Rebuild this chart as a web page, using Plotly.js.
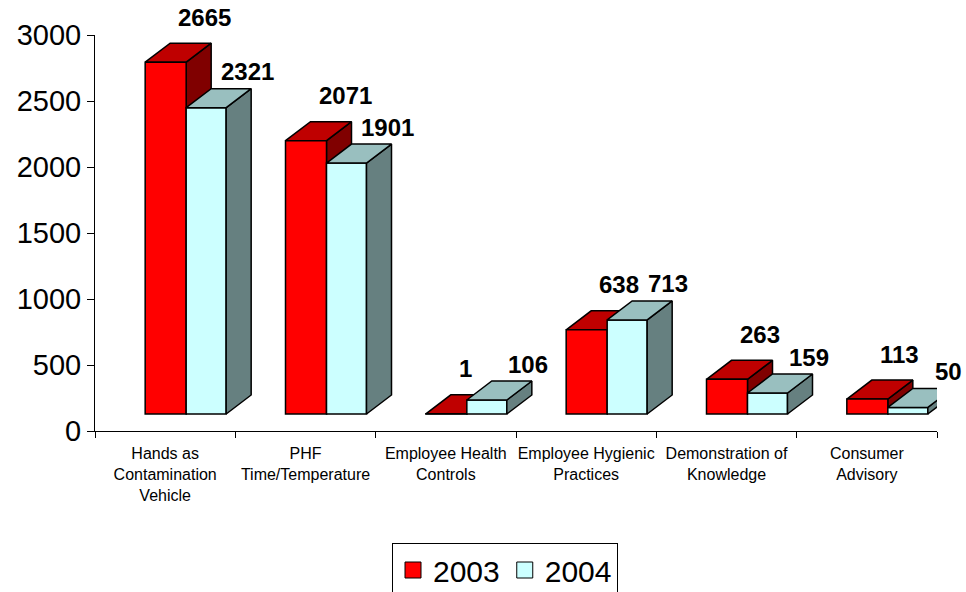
<!DOCTYPE html>
<html><head><meta charset="utf-8">
<script src="https://cdn.plot.ly/plotly-3.0.1.min.js"></script>
<style>html,body{margin:0;padding:0;background:#fff}</style>
</head><body><div id="chart" style="width:966px;height:592px"></div>
<script>
const categories = ["Hands as<br>Contamination<br>Vehicle", "PHF<br>Time/Temperature", "Employee Health<br>Controls", "Employee Hygienic<br>Practices", "Demonstration of<br>Knowledge", "Consumer<br>Advisory"];
const years = ["2003", "2004"];
const values2003 = [2665, 2071, 1, 638, 263, 113];
const values2004 = [2321, 1901, 106, 713, 159, 50];
const yTicks = [0, 500, 1000, 1500, 2000, 2500, 3000];

const W = 966, H = 592, M = {l: 95, r: 29, t: 35, b: 161};
const XR = [-0.5, categories.length - 0.5], YR = [0, 3000];
const pxX = (W - M.l - M.r) / (XR[1] - XR[0]);
const pxY = (H - M.t - M.b) / (YR[1] - YR[0]);
const ux = p => p / pxX, uy = p => p / pxY;
const BASE = uy(17), DX = ux(25), DY = uy(19);
const idx = categories.map((_, i) => i);

const series = [
  {name: years[0], vals: values2003, off: ux(-20), w: ux(41), front: '#FF0000', top: '#BF0000', side: '#800000'},
  {name: years[1], vals: values2004, off: ux(21), w: ux(40), front: '#CCFFFF', top: '#99BFBF', side: '#668080'}
];

function poly(s, kind) {
  const xs = [], ys = [];
  s.vals.forEach((v, i) => {
    const xl = i + s.off, xr = xl + s.w, top = BASE + v;
    if (kind === 'top') {
      xs.push(xl, xr, xr + DX, xl + DX, xl, null);
      ys.push(top, top, top + DY, top + DY, top, null);
    } else {
      xs.push(xr, xr, xr + DX, xr + DX, xr, null);
      ys.push(BASE, top, top + DY, BASE + DY, BASE, null);
    }
  });
  return {xs, ys};
}

const traces = [];
const line = {color: '#000', width: 1.5};
series.forEach((s, k) => {
  const ax = k === 0 ? {xaxis: 'x', yaxis: 'y'} : {xaxis: 'x2', yaxis: 'y2'};
  ['side', 'top'].forEach(kind => {
    const p = poly(s, kind);
    traces.push(Object.assign({type: 'scatter', mode: 'lines', x: p.xs, y: p.ys, fill: 'toself',
      fillcolor: s[kind], line: line, showlegend: false, hoverinfo: 'skip'}, ax));
  });
});
series.forEach(s => {
  traces.push({type: 'bar', x: idx, y: s.vals, base: BASE, offset: s.off, width: s.w,
    marker: {color: s.front, line: line}, xaxis: 'x2', yaxis: 'y2', showlegend: false, hoverinfo: 'skip'});
});
// legend entries
series.forEach(s => {
  traces.push({type: 'scatter', mode: 'markers', x: [null], y: [null], name: s.name,
    marker: {symbol: 'square', size: 16, color: s.front, line: {color: '#000', width: 1}},
    xaxis: 'x2', yaxis: 'y2', showlegend: true, hoverinfo: 'skip'});
});

// value labels, anchored at the back edge of each bar's top face
const annotations = [];
series.forEach((s, k) => {
  s.vals.forEach((v, i) => {
    const backLeft = i + s.off + DX;
    annotations.push({
      xref: 'x', yref: 'y', x: k === 0 ? backLeft : backLeft + s.w / 2, y: BASE + v + DY,
      xanchor: k === 0 ? 'left' : 'center', yanchor: 'middle',
      xshift: k === 0 ? 6 : 16, yshift: k === 0 ? 26 : 17,
      text: String(v), showarrow: false,
      font: {family: 'Liberation Sans, Arial, sans-serif', size: 24, color: '#000', weight: 'bold'}
    });
  });
});

const font = {family: 'Liberation Sans, Arial, sans-serif', color: '#000'};
const layout = {
  width: W, height: H, margin: M, paper_bgcolor: '#fff', plot_bgcolor: '#fff',
  barmode: 'overlay', font: font, annotations: annotations,
  xaxis: {type: 'linear', range: XR, autorange: false, tickmode: 'array', tickvals: idx, ticktext: categories,
    ticks: '', showgrid: false, zeroline: false, showline: true, linecolor: '#000', linewidth: 1,
    ticklabelstandoff: 8,
    tickfont: {family: font.family, size: 16, color: '#000'},
    minor: {tickmode: 'array', tickvals: idx.concat([categories.length]).map(i => i - 0.5), ticks: 'outside', ticklen: 6, tickcolor: '#000', tickwidth: 1, showgrid: false}},
  yaxis: {range: YR, autorange: false, tickmode: 'array', tickvals: yTicks, ticks: 'outside', ticklen: 7,
    tickcolor: '#000', showgrid: false, zeroline: false, showline: true, linecolor: '#000', linewidth: 1,
    tickfont: {family: font.family, size: 29, color: '#000'}},
  xaxis2: {overlaying: 'x', range: XR, autorange: false, visible: false},
  yaxis2: {overlaying: 'y', range: YR, autorange: false, visible: false},
  showlegend: true,
  legend: {orientation: 'h', xref: 'container', yref: 'container', x: 505 / W, xanchor: 'center',
    y: 1 - 543 / H, yanchor: 'top', bordercolor: '#000', borderwidth: 1, bgcolor: '#fff',
    font: {family: font.family, size: 30, color: '#000'}}
};
Plotly.newPlot('chart', traces, layout, {displayModeBar: false, staticPlot: true});
</script></body></html>
